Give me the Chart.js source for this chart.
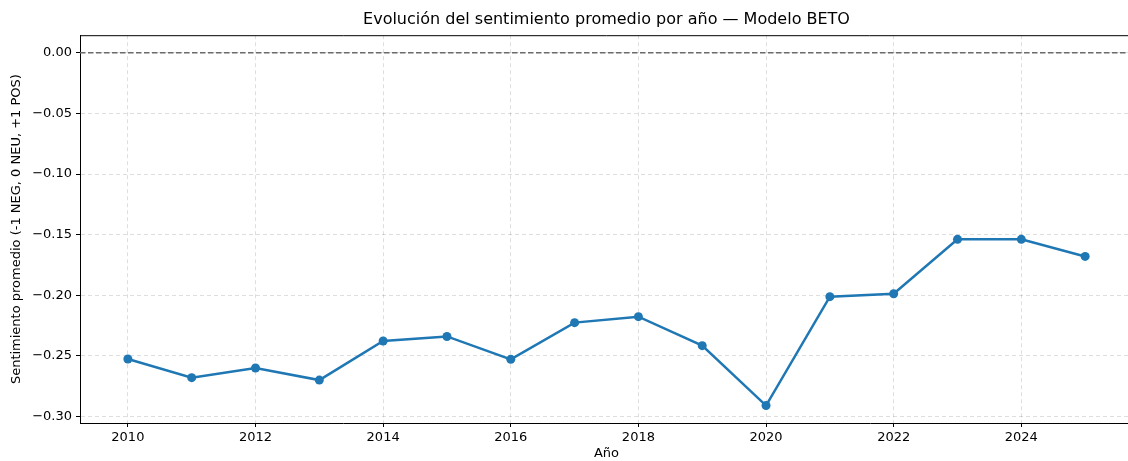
<!DOCTYPE html>
<html>
<head>
<meta charset="utf-8">
<script src="https://cdn.jsdelivr.net/npm/chart.js@4.4.1/dist/chart.umd.min.js"></script>
<style>
  html, body { margin: 0; padding: 0; background: #fff; overflow: hidden; }
  #wrap { width: 1128px; height: 461px; overflow: hidden; }
</style>
</head>
<body>
<div id="wrap"><canvas id="chart" width="1212" height="461"></canvas></div>
<script>
const years = [2010, 2011, 2012, 2013, 2014, 2015, 2016, 2017, 2018, 2019, 2020, 2021, 2022, 2023, 2024, 2025];
const sentiment = [-0.2526, -0.268, -0.260, -0.270, -0.2378, -0.234, -0.2529, -0.2226, -0.2177, -0.2416, -0.291, -0.2012, -0.1988, -0.1539, -0.1539, -0.168];
const yTicks = [0, -0.05, -0.10, -0.15, -0.20, -0.25, -0.30];
const xTicks = [2010, 2012, 2014, 2016, 2018, 2020, 2022, 2024];
const baseline = 0;

const font = "'DejaVu Sans', sans-serif";
const minus = (v) => v.toFixed(2).replace("-", "\u2212");

// dashed reference line at 0 and the top spine
const extras = {
  id: "extras",
  beforeDatasetsDraw(chart) {
    const { ctx, chartArea, scales } = chart;
    const y0 = scales.y.getPixelForValue(baseline);
    ctx.save();
    ctx.strokeStyle = "#6b6b6b";
    ctx.lineWidth = 1.5;
    ctx.setLineDash([5.5, 2.5]);
    ctx.beginPath();
    ctx.moveTo(chartArea.left, y0);
    ctx.lineTo(chartArea.right, y0);
    ctx.stroke();
    ctx.setLineDash([]);
    ctx.strokeStyle = "#000";
    ctx.lineWidth = 1;
    ctx.beginPath();
    ctx.moveTo(chartArea.left, chartArea.top + 0.5);
    ctx.lineTo(chartArea.right, chartArea.top + 0.5);
    ctx.stroke();
    ctx.restore();
  },
};

new Chart(document.getElementById("chart"), {
  type: "line",
  data: {
    datasets: [
      {
        data: years.map((y, i) => ({ x: y, y: sentiment[i] })),
        borderColor: "#1f77b4",
        backgroundColor: "#1f77b4",
        borderWidth: 2.5,
        pointRadius: 4.5,
        pointBorderWidth: 0,
        tension: 0,
      },
    ],
  },
  options: {
    responsive: false,
    animation: false,
    layout: { autoPadding: false, padding: { left: 0, right: 79, top: 0, bottom: 0 } },
    plugins: {
      legend: { display: false },
      tooltip: { enabled: false },
      title: {
        display: true,
        fullSize: false,
        text: "Evolución del sentimiento promedio por año — Modelo BETO",
        color: "#000",
        font: { family: font, size: 16, weight: "normal" },
        padding: { top: 10, bottom: 6 },
      },
    },
    scales: {
      x: {
        type: "linear",
        min: 2009.25,
        max: 2025.75,
        afterBuildTicks: (s) => { s.ticks = xTicks.map((v) => ({ value: v })); },
        afterFit: (s) => { s.height = 38; },
        ticks: {
          color: "#000",
          font: { family: font, size: 13 },
          padding: 3,
          maxRotation: 0,
          callback: (v) => String(v),
        },
        grid: {
          color: "rgba(0,0,0,0.13)",
          tickColor: "#000",
          tickBorderDash: [],
          tickLength: 4,
        },
        border: { color: "#000", width: 1, dash: [4, 3] },
        title: {
          display: true,
          text: "Año",
          color: "#000",
          font: { family: font, size: 13 },
          padding: { top: 3, bottom: 0 },
        },
      },
      y: {
        min: -0.3054,
        max: 0.0145,
        afterBuildTicks: (s) => { s.ticks = yTicks.map((v) => ({ value: v })); },
        afterFit: (s) => { s.width = 80; },
        ticks: {
          color: "#000",
          font: { family: font, size: 13 },
          padding: 4,
          callback: (v) => minus(v),
        },
        grid: {
          color: "rgba(0,0,0,0.13)",
          tickColor: "#000",
          tickBorderDash: [],
          tickLength: 4,
        },
        border: { color: "#000", width: 1, dash: [4, 3] },
        title: {
          display: true,
          text: "Sentimiento promedio (-1 NEG, 0 NEU, +1 POS)",
          color: "#000",
          font: { family: font, size: 13 },
          padding: { top: 9, bottom: 0 },
        },
      },
    },
  },
  plugins: [extras],
});
</script>
</body>
</html>
